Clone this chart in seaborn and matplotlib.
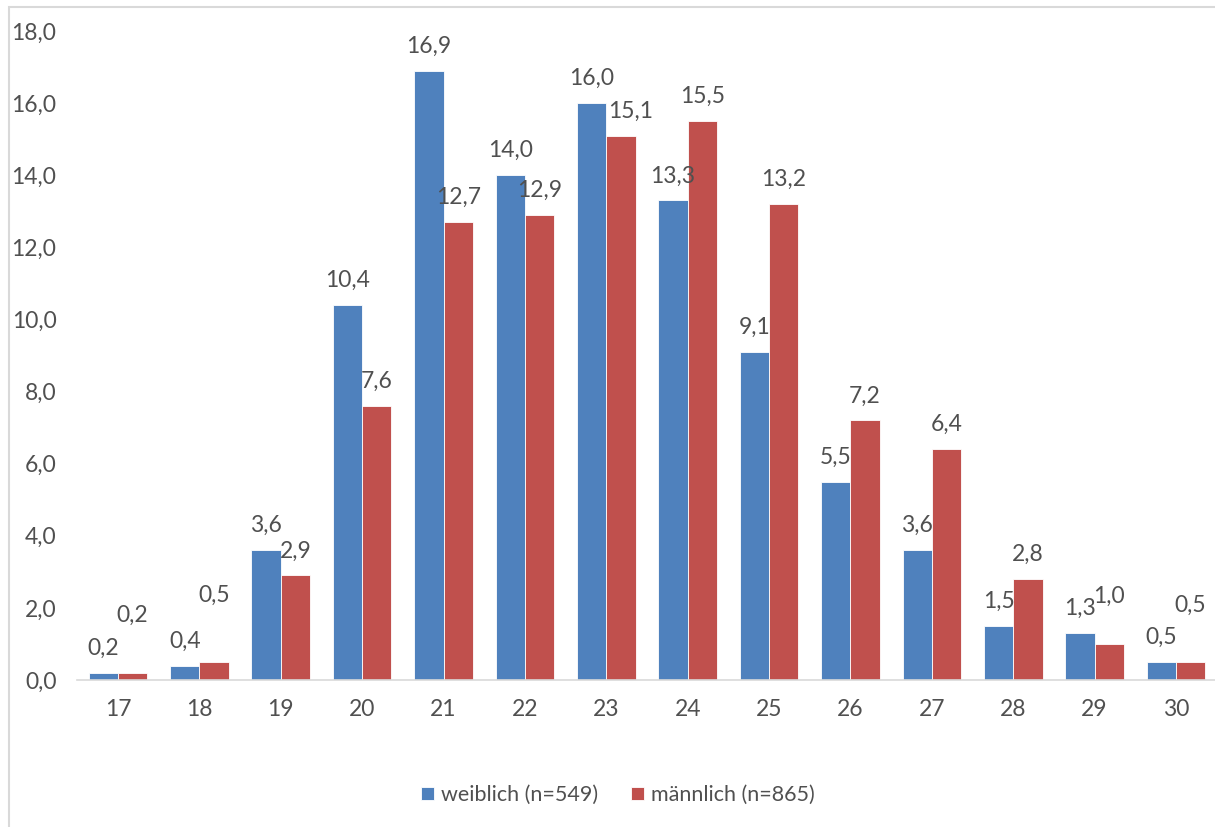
import pandas as pd
import matplotlib.pyplot as plt
from matplotlib.patches import Rectangle
import seaborn as sns

# Daten: Anteil (%) nach Alter und Geschlecht
alter = ['17', '18', '19', '20', '21', '22', '23', '24', '25', '26', '27', '28', '29', '30']
weiblich = [0.2, 0.4, 3.6, 10.4, 16.9, 14.0, 16.0, 13.3, 9.1, 5.5, 3.6, 1.5, 1.3, 0.5]
maennlich = [0.2, 0.5, 2.9, 7.6, 12.7, 12.9, 15.1, 15.5, 13.2, 7.2, 6.4, 2.8, 1.0, 0.5]
gruppen = ['weiblich (n=549)', 'männlich (n=865)']

farben = ['#4F81BD', '#C0504D']
textfarbe = '#505050'

# manuell verschobene Beschriftungen (Pixel): (gruppe, index) -> (dx, dy)
verschiebung = {
    (1, 0): (0, 33),
    (1, 1): (0, 42),
    (1, 6): (10, 0),
    (1, 12): (0, 23),
    (1, 13): (0, 32),
}

df = pd.DataFrame({
    'Alter': alter * 2,
    'Anteil': weiblich + maennlich,
    'Geschlecht': [gruppen[0]] * len(alter) + [gruppen[1]] * len(alter),
})

sns.set_style('white')
plt.rcParams['font.family'] = ['Lato', 'DejaVu Sans']
fs = 16.5
fs_leg = 15.5

fig = plt.figure(figsize=(12.15, 8.27), dpi=100)
ax = fig.add_axes([77.3 / 1215, (827 - 680) / 827, 1139.4 / 1215, (680 - 31) / 827])

sns.barplot(data=df, x='Alter', y='Anteil', hue='Geschlecht', order=alter,
            hue_order=gruppen, palette=farben, saturation=1, width=0.72, gap=0,
            edgecolor='white', linewidth=0.6, ax=ax)

handles, labels = ax.get_legend_handles_labels()
ax.get_legend().remove()

ax.set_ylim(0, 18)
ax.set_xlim(-0.5, len(alter) - 0.5)
ax.set_yticks(range(0, 19, 2))
ax.set_yticklabels([f'{v:.1f}'.replace('.', ',') for v in range(0, 19, 2)])
ax.set_xlabel('')
ax.set_ylabel('')
ax.tick_params(axis='both', length=0, labelsize=fs, labelcolor=textfarbe)
ax.tick_params(axis='y', pad=15)
ax.tick_params(axis='x', pad=14)
for s in ['left', 'top', 'right']:
    ax.spines[s].set_visible(False)
ax.spines['bottom'].set_color('#D9D9D9')
ax.spines['bottom'].set_linewidth(1.2)

# Beschriftungen über den Balken
for g, werte in enumerate([weiblich, maennlich]):
    cont = ax.containers[g]
    for i, (bar, v) in enumerate(zip(cont.patches, werte)):
        dx, dy = verschiebung.get((g, i), (0, 0))
        ax.annotate(f'{v:.1f}'.replace('.', ','),
                    xy=(bar.get_x() + bar.get_width() / 2, bar.get_height()),
                    xytext=(dx * 0.72, 13 + dy * 0.72), textcoords='offset points',
                    ha='center', va='baseline', fontsize=fs, color=textfarbe)

fig.legend(handles, labels, loc='center', bbox_to_anchor=(618 / 1215, (827 - 795) / 827),
           ncol=2, frameon=False, fontsize=fs_leg, labelcolor=textfarbe,
           handlelength=0.6, handleheight=0.6, handletextpad=0.35, columnspacing=1.5)

# Rahmen (nur oben und links sichtbar)
fig.add_artist(Rectangle((8.5 / 1215, -0.05), 1.2, (827 - 6.5) / 827 + 0.05,
                         transform=fig.transFigure, fill=False,
                         edgecolor='#D9D9D9', linewidth=1.5))

fig.savefig('out.png', dpi=100)
